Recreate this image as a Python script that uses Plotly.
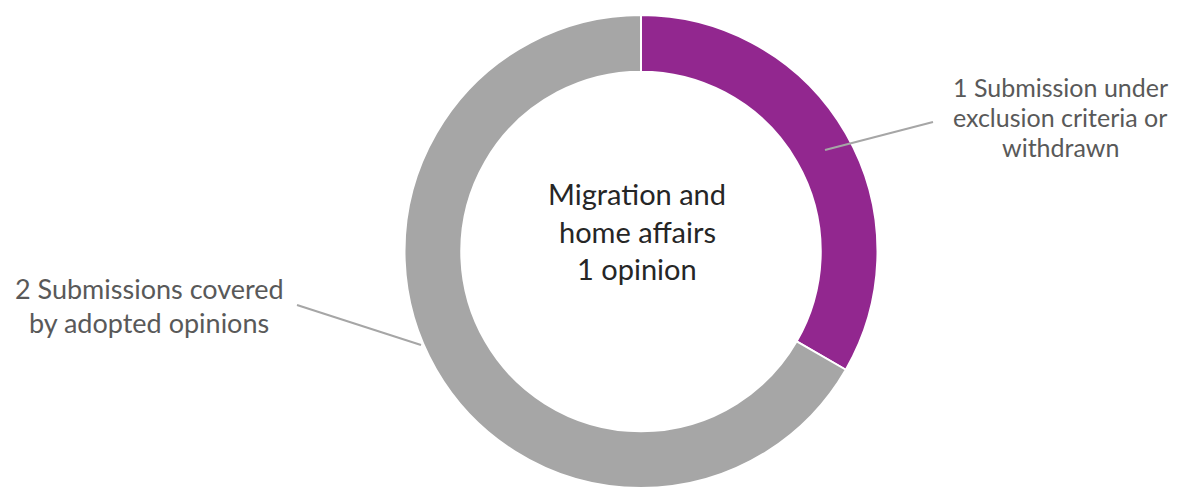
import plotly.graph_objects as go

labels = ["Submission under exclusion criteria or withdrawn", "Submissions covered by adopted opinions"]
values = [1, 2]
colors = ["#92278F", "#A6A6A6"]
center_lines = ["Migration and", "home affairs", "1 opinion"]
right_lines = ["1 Submission under", "exclusion criteria or", "withdrawn"]
left_lines = ["2 Submissions covered", "by adopted opinions"]

W, H = 1189, 488
cx, cy, R = 641, 252, 237

def px(x):
    return x / W

def py(y):
    return 1 - y / H

fig = go.Figure(go.Pie(
    labels=labels, values=values, sort=False, direction="clockwise", rotation=0,
    hole=0.76, textinfo="none", hoverinfo="label+value",
    marker=dict(colors=colors, line=dict(color="white", width=2)),
    domain=dict(x=[px(cx - R), px(cx + R)], y=[max(0, py(cy + R)), py(cy - R)]),
    showlegend=False,
))

ann = []
FONT = "Lato"
for i, t in enumerate(center_lines):
    ann.append(dict(text=t, x=px(637), y=py(194 + i * 37), xref="paper", yref="paper",
                    xanchor="center", yanchor="middle", borderpad=0,
                    showarrow=False, font=dict(family=FONT, size=29, color="#262626")))
for i, t in enumerate(right_lines):
    ann.append(dict(text=t, x=px(1060), y=py(87 + i * 30), xref="paper", yref="paper",
                    xanchor="center", yanchor="middle", borderpad=0,
                    showarrow=False, font=dict(family=FONT, size=25, color="#595959")))
for i, t in enumerate(left_lines):
    ann.append(dict(text=t, x=px(149), y=py(288 + i * 34), xref="paper", yref="paper",
                    xanchor="center", yanchor="middle", borderpad=0,
                    showarrow=False, font=dict(family=FONT, size=27, color="#595959")))

shapes = [
    dict(type="line", xref="paper", yref="paper", x0=px(825), y0=py(150), x1=px(933), y1=py(122),
         line=dict(color="#A6A6A6", width=2)),
    dict(type="line", xref="paper", yref="paper", x0=px(297), y0=py(305), x1=px(421), y1=py(345),
         line=dict(color="#A6A6A6", width=2)),
]

fig.update_layout(width=W, height=H, margin=dict(l=0, r=0, t=0, b=0),
                  paper_bgcolor="white", plot_bgcolor="white",
                  annotations=ann, shapes=shapes)
fig.write_html("out.html")
